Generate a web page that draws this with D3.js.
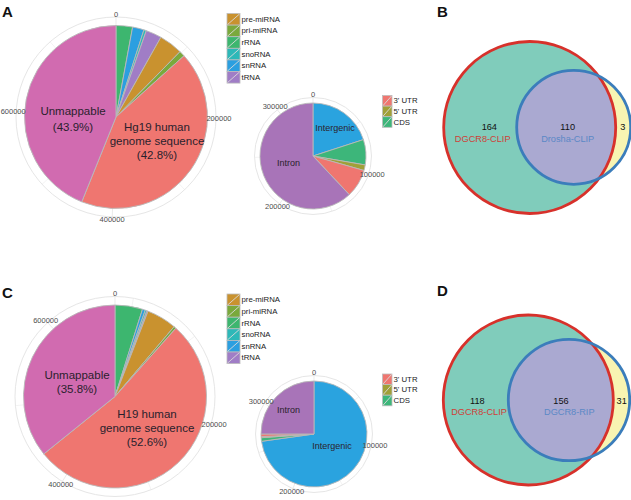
<!DOCTYPE html>
<html><head><meta charset="utf-8">
<script src="https://cdn.jsdelivr.net/npm/d3@7"></script>
<style>body{margin:0;background:#fff}svg{display:block;font-family:"Liberation Sans",Arial,sans-serif}</style>
</head><body><svg id="c" width="631" height="500"></svg>
<script>
// ---------- data ----------
const readCategories = ["rRNA","snRNA","snoRNA","tRNA","pre-miRNA","pri-miRNA","Hg19","Unmappable"];
const readColors = ["#3db66f","#2b9fe0","#2db8b8","#a07dc6","#c9922f","#7aa93c","#ef7670","#d16bb0"];
const readsA = [23000,16000,3500,22000,33000,8000,338000,347000];
const readsC = [33000,3500,2000,1500,36000,2800,357700,243440];
const readTicks = [0,200000,400000,600000];
const readMinorTicks = [100000,300000,500000,700000];
const legendRNA = ["pre-miRNA","pri-miRNA","rRNA","snoRNA","snRNA","tRNA"];

const regionCategories = ["Intergenic","CDS","5' UTR","3' UTR","Intron"];
const regionColors = ["#2aa3df","#3db67a","#a0a038","#ef7670","#a874b8"];
const regionsA = [67000,25800,5700,28800,207700];
const regionsC = [260600,3900,1100,2900,89500];
const regionTicks = [0,100000,200000,300000];
const regionMinorTicks = [50000,150000,250000];
const legendRegion = ["3' UTR","5' UTR","CDS"];

const vennBCounts = [164,110,3];
const vennBNames = ["DGCR8-CLIP","Drosha-CLIP"];
const vennDCounts = [118,156,31];
const vennDNames = ["DGCR8-CLIP","DGCR8-RIP"];

// ---------- drawing ----------
const svg = d3.select("#c");

function polarPie(opt){
  const g = svg.append("g").attr("transform",`translate(${opt.cx},${opt.cy})`);
  const total = d3.sum(opt.values);
  const ang = d3.scaleLinear().domain([0,total]).range([0,2*Math.PI]);
  opt.minor.concat(opt.ticks).forEach(t=>{
    const a = ang(t);
    g.append("line").attr("x1",0).attr("y1",0)
      .attr("x2",opt.ring*Math.sin(a)).attr("y2",-opt.ring*Math.cos(a))
      .attr("stroke", "#ebebeb").attr("stroke-width",opt.minor.includes(t)?0.6:1);
  });
  g.append("circle").attr("r",opt.ring).attr("fill","none").attr("stroke","#e6e6e6").attr("stroke-width",1);
  const pie = d3.pie().sort(null).value(d=>d.v);
  const data = opt.values.map((v,i)=>({v, c:opt.colors[i], k:opt.cats[i]}));
  const arc = d3.arc().innerRadius(0).outerRadius(opt.r);
  g.selectAll("path").data(pie(data)).join("path")
    .attr("d",arc).attr("fill",d=>d.data.c)
    .attr("stroke","#b9b9b9").attr("stroke-width",0.9).attr("stroke-linejoin","round");
  opt.ticks.forEach(t=>{
    const a = ang(t);
    g.append("text").attr("x",opt.lr*Math.sin(a)).attr("y",-opt.lr*Math.cos(a))
      .attr("text-anchor","middle").attr("dominant-baseline","central")
      .attr("font-size",opt.tickSize).attr("fill","#4d4d4d").text(t);
  });
  return g;
}

function legend(x,y,items,colors,w,h,fs){
  const g = svg.append("g").attr("transform",`translate(${x},${y})`);
  items.forEach((t,i)=>{
    g.append("rect").attr("x",0).attr("y",i*h).attr("width",w).attr("height",h)
      .attr("fill",colors[i]).attr("stroke","#bdbdbd").attr("stroke-width",0.8);
    g.append("line").attr("x1",0.5).attr("y1",i*h+h-0.5).attr("x2",w-0.5).attr("y2",i*h+0.5)
      .attr("stroke","#d9d9d9").attr("stroke-width",0.9);
    g.append("text").attr("x",w+1.5).attr("y",i*h+h/2).attr("dominant-baseline","central")
      .attr("font-size",fs).attr("fill","#1a1a1a").text(t);
  });
}

function label(lines,x,y,fs,lh){
  const t = svg.append("text").attr("font-size",fs).attr("fill","#2a1f2d").attr("text-anchor","middle");
  lines.forEach((l,i)=>t.append("tspan").attr("x",x).attr("y",y+i*lh).attr("dominant-baseline","central").text(l));
}

function venn(o){
  const g = svg.append("g");
  g.append("circle").attr("cx",o.c1[0]).attr("cy",o.c1[1]).attr("r",o.r1).attr("fill","#80ccbb");
  g.append("circle").attr("cx",o.c2[0]).attr("cy",o.c2[1]).attr("r",o.r2).attr("fill","#f8f4b2");
  const id = "clip"+o.id;
  g.append("clipPath").attr("id",id).append("circle").attr("cx",o.c1[0]).attr("cy",o.c1[1]).attr("r",o.r1);
  g.append("circle").attr("cx",o.c2[0]).attr("cy",o.c2[1]).attr("r",o.r2).attr("fill","#aaa9d1").attr("clip-path",`url(#${id})`);
  g.append("circle").attr("cx",o.c1[0]).attr("cy",o.c1[1]).attr("r",o.r1).attr("fill","none").attr("stroke","#d7312b").attr("stroke-width",2.8);
  g.append("circle").attr("cx",o.c2[0]).attr("cy",o.c2[1]).attr("r",o.r2).attr("fill","none").attr("stroke","#3b7dbb").attr("stroke-width",2.8);
  const fs = 9.2;
  o.counts.forEach((c,i)=>{
    g.append("text").attr("x",o.tx[i]).attr("y",o.ty).attr("text-anchor","middle").attr("dominant-baseline","central")
      .attr("font-size",fs).attr("fill","#111").text(c);
  });
  g.append("text").attr("x",o.nx[0]).attr("y",o.ty+11.5).attr("text-anchor","middle").attr("dominant-baseline","central")
    .attr("font-size",fs).attr("fill","#cf3f38").text(o.names[0]);
  g.append("text").attr("x",o.nx[1]).attr("y",o.ty+11.5).attr("text-anchor","middle").attr("dominant-baseline","central")
    .attr("font-size",fs).attr("fill","#5b88c6").text(o.names[1]);
}

const pct = (arr,i)=>`(${(arr[i]/d3.sum(arr)*100).toFixed(1)}%)`;

// Panel A
polarPie({cx:116,cy:117,r:91.5,ring:100,lr:103,values:readsA,colors:readColors,cats:readCategories,ticks:readTicks,minor:readMinorTicks,tickSize:7.5});
label(["Unmappable",pct(readsA,7)],73,111,11.5,15.5);
label(["Hg19 human","genome sequence",pct(readsA,6)],157,126.5,11.5,14.2);
legend(227,13.5,legendRNA,legendRNA.map(k=>readColors[readCategories.indexOf(k)]),13,11.6,7.8);

polarPie({cx:313,cy:156,r:53,ring:58.5,lr:62,values:regionsA,colors:regionColors,cats:regionCategories,ticks:regionTicks,minor:regionMinorTicks,tickSize:7.5});
label(["Intergenic"],335,127.5,9,10);
label(["Intron"],288.5,163,9,10);
legend(382.5,95.5,legendRegion,legendRegion.map(k=>regionColors[regionCategories.indexOf(k)]),9.5,10.6,7.8);

// Panel C
polarPie({cx:115,cy:396.5,r:91.5,ring:100,lr:103,values:readsC,colors:readColors,cats:readCategories,ticks:readTicks,minor:readMinorTicks,tickSize:7.5});
label(["Unmappable",pct(readsC,7)],77,375,11.5,14);
label(["H19 human","genome sequence",pct(readsC,6)],147,413.5,11.5,14.2);
legend(227,294,legendRNA,legendRNA.map(k=>readColors[readCategories.indexOf(k)]),13,11.6,7.8);

polarPie({cx:314,cy:434,r:53,ring:58.5,lr:62,values:regionsC,colors:regionColors,cats:regionCategories,ticks:regionTicks,minor:regionMinorTicks,tickSize:7.5});
label(["Intron"],288.5,410,9,10);
label(["Intergenic"],332,445.5,9,10);
legend(382.5,374,legendRegion,legendRegion.map(k=>regionColors[regionCategories.indexOf(k)]),9.5,10.6,7.8);

// Venns
venn({id:"B",c1:[529.7,127.5],r1:86,c2:[573.7,127.3],r2:57,counts:vennBCounts,names:vennBNames,tx:[489.3,567.7,622.7],nx:[482.7,567.7],ty:127.3});
venn({id:"D",c1:[528.3,400],r1:85,c2:[569,400],r2:60.7,counts:vennDCounts,names:vennDNames,tx:[477.3,561,621.7],nx:[479,569.3],ty:400.7});

// Panel letters
[["A",2,11],["B",437,11],["C",2,292],["D",437,290]].forEach(([t,x,y])=>{
  svg.append("text").attr("x",x).attr("y",y).attr("dominant-baseline","central")
    .attr("font-size",15).attr("font-weight","bold").attr("fill","#111").text(t);
});
</script></body></html>
